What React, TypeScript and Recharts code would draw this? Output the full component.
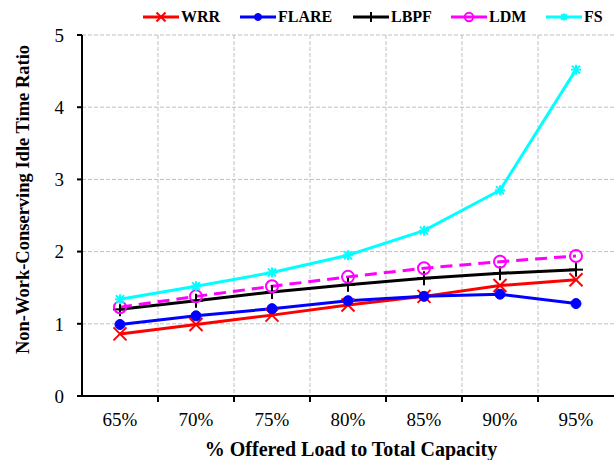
import { LineChart, Line, XAxis, YAxis, CartesianGrid, Legend, Label } from 'recharts'

const loads = ['65%', '70%', '75%', '80%', '85%', '90%', '95%']
const wrr = [0.86, 0.99, 1.12, 1.26, 1.38, 1.53, 1.61]
const flare = [0.99, 1.11, 1.21, 1.32, 1.38, 1.41, 1.28]
const lbpf = [1.2, 1.32, 1.44, 1.54, 1.63, 1.7, 1.75]
const ldm = [1.23, 1.38, 1.52, 1.65, 1.77, 1.86, 1.94]
const fs = [1.34, 1.52, 1.71, 1.95, 2.29, 2.85, 4.52]
const yTicks = [0, 1, 2, 3, 4, 5]

const data = loads.map((load, i) => ({
  pos: i + 0.5,
  load,
  wrr: wrr[i],
  flare: flare[i],
  lbpf: lbpf[i],
  ldm: ldm[i],
  fs: fs[i],
}))

// integer ticks carry the tick marks, half ticks carry the labels
const xTicks = loads.flatMap((_, i) => [i, i + 0.5])

type Shape = 'x' | 'dot' | 'plus' | 'ring' | 'star'

const series: { key: string; name: string; color: string; shape: Shape; dash?: string; legendWidth: number }[] = [
  { key: 'wrr', name: 'WRR', color: '#ff0000', shape: 'x', legendWidth: 97 },
  { key: 'flare', name: 'FLARE', color: '#0000ff', shape: 'dot', legendWidth: 113 },
  { key: 'lbpf', name: 'LBPF', color: '#000000', shape: 'plus', legendWidth: 98 },
  { key: 'ldm', name: 'LDM', color: '#ff00ff', shape: 'ring', dash: '12 7', legendWidth: 95 },
  { key: 'fs', name: 'FS', color: '#00ffff', shape: 'star', dash: undefined, legendWidth: 60 },
]

const FONT = "'Liberation Serif', 'Times New Roman', serif"

function Marker({ cx, cy, color, shape, k = 1 }: { cx: number; cy: number; color: string; shape: Shape; k?: number }) {
  if (cx == null || cy == null) return null
  if (shape === 'dot') return <circle cx={cx} cy={cy} r={5 * k} fill={color} stroke={color} />
  if (shape === 'ring') return <circle cx={cx} cy={cy} r={6 * k} fill="none" stroke={color} strokeWidth={2} />
  if (shape === 'x') {
    const s = 6.5 * k
    return (
      <g stroke={color} strokeWidth={2}>
        <line x1={cx - s} y1={cy - s} x2={cx + s} y2={cy + s} />
        <line x1={cx - s} y1={cy + s} x2={cx + s} y2={cy - s} />
      </g>
    )
  }
  if (shape === 'plus') {
    const s = 7 * k
    return (
      <g stroke={color} strokeWidth={2}>
        <line x1={cx} y1={cy - s} x2={cx} y2={cy + s} />
        <line x1={cx - s} y1={cy} x2={cx + s} y2={cy} />
      </g>
    )
  }
  const s = 5 * k
  const d = 4 * k
  return (
    <g stroke={color} strokeWidth={2}>
      <line x1={cx} y1={cy - s} x2={cx} y2={cy + s} />
      <line x1={cx - s} y1={cy} x2={cx + s} y2={cy} />
      <line x1={cx - d} y1={cy - d} x2={cx + d} y2={cy + d} />
      <line x1={cx - d} y1={cy + d} x2={cx + d} y2={cy - d} />
    </g>
  )
}

function XTick(props: any) {
  const { x, y, payload } = props
  const v = payload.value
  if (Number.isInteger(v)) {
    if (v === 0) return null
    return <line x1={x} y1={y} x2={x} y2={y + 6} stroke="#000" strokeWidth={2} />
  }
  return (
    <text x={x} y={y + 30} textAnchor="middle" fontFamily={FONT} fontSize={19} fill="#000">
      {loads[Math.floor(v)]}
    </text>
  )
}

function LegendContent() {
  return (
    <div style={{ display: 'flex', alignItems: 'center', fontFamily: FONT, fontWeight: 'bold', fontSize: 16 }}>
      {series.map((s) => (
        <div key={s.key} style={{ display: 'flex', alignItems: 'center', width: s.legendWidth, flex: 'none' }}>
          <svg width={36} height={16} style={{ flex: 'none' }}>
            <line x1={0} y1={8} x2={36} y2={8} stroke={s.color} strokeWidth={3} />
            <Marker cx={18} cy={8} color={s.color} shape={s.shape} k={0.7} />
          </svg>
          <span style={{ marginLeft: 2 }}>{s.name}</span>
        </div>
      ))}
    </div>
  )
}

export default function App() {
  return (
    <div style={{ position: 'absolute', left: 0, top: 0, background: '#fff' }}>
      <LineChart width={615} height={460} data={data} margin={{ top: 35, right: 1, bottom: 0, left: 0 }}>
        <CartesianGrid
          stroke="#c0c0c0"
          strokeDasharray="4 2"
          verticalValues={[1, 2, 3, 4, 5, 6]}
          horizontalValues={[1, 2, 3, 4, 5]}
        />
        <XAxis
          type="number"
          dataKey="pos"
          domain={[0, 7]}
          ticks={xTicks}
          interval={0}
          height={64}
          tickLine={false}
          tickSize={0}
          tickMargin={0}
          tick={<XTick />}
          axisLine={{ stroke: '#000', strokeWidth: 2 }}
        >
          <Label
            value="% Offered Load to Total Capacity"
            position="insideBottom"
            offset={4}
            dx={3}
            style={{ fontFamily: FONT, fontWeight: 'bold', fontSize: 20, fill: '#000' }}
          />
        </XAxis>
        <YAxis
          domain={[0, 5]}
          ticks={yTicks}
          width={82}
          tickSize={5}
          tickMargin={13}
          tick={{ fontFamily: FONT, fontSize: 19, fill: '#000' }}
          tickLine={{ stroke: '#000', strokeWidth: 2 }}
          axisLine={{ stroke: '#000', strokeWidth: 2 }}
        >
          <Label
            value="Non-Work-Conserving Idle Time Ratio"
            angle={-90}
            position="center"
            dx={-19}
            dy={-16}
            style={{ fontFamily: FONT, fontWeight: 'bold', fontSize: 18.5, fill: '#000', textAnchor: 'middle' }}
          />
        </YAxis>
        <Legend
          layout="horizontal"
          verticalAlign="middle"
          content={<LegendContent />}
          wrapperStyle={{ top: 8, left: 143, width: 470 }}
        />
        {series.map((s) => (
          <Line
            key={s.key}
            dataKey={s.key}
            name={s.name}
            stroke={s.color}
            strokeWidth={3}
            strokeDasharray={s.dash}
            isAnimationActive={false}
            dot={(p: any) => <Marker key={`${s.key}-${p.index}`} cx={p.cx} cy={p.cy} color={s.color} shape={s.shape} />}
            activeDot={false}
          />
        ))}
      </LineChart>
    </div>
  )
}
